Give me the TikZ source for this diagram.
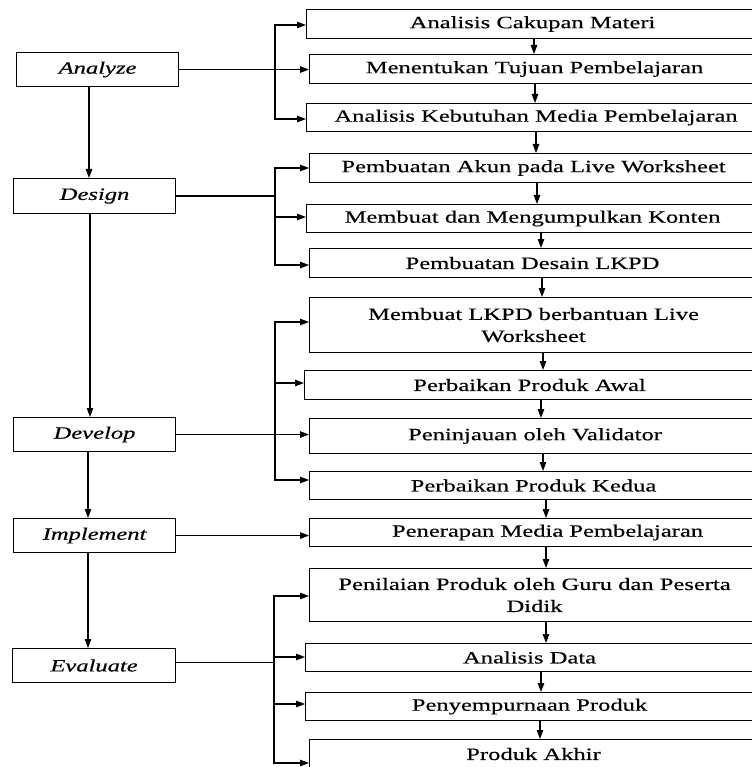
\documentclass[tikz,border=0pt]{standalone}
\usepackage{fontspec}
\usetikzlibrary{arrows.meta}
\newfontfamily\diafont[FakeStretch=1.42,FakeBold=0.4]{Liberation Serif}
\begin{document}
\begin{tikzpicture}[x=1pt,y=-1pt,
  box/.style={draw=black,line width=1.1pt,rectangle,inner sep=0pt,anchor=north west,align=center,
    font=\diafont\fontsize{17.3}{22}\selectfont},
  lbox/.style={box,font=\diafont\itshape\fontsize{17.3}{22}\selectfont},
  tip/.style={-{Triangle[length=9pt,width=6.5pt]}},
  arr/.style={tip,line width=1.1pt},
  arrb/.style={{Triangle[length=9pt,width=6.5pt]}-{Triangle[length=9pt,width=6.5pt]},line width=1.1pt},
  ln/.style={line width=1.1pt}]
\useasboundingbox (0,0) rectangle (751,767);
% left column
\node[lbox,minimum width=162pt,minimum height=34pt] (an) at (16,52) {Analyze};
\node[lbox,minimum width=162pt,minimum height=35pt] (ds) at (13,178) {Design};
\node[lbox,minimum width=162pt,minimum height=34pt] (dv) at (13,417) {Develop};
\node[lbox,minimum width=162pt,minimum height=34pt] (im) at (13,518) {Implement};
\node[lbox,minimum width=163pt,minimum height=34pt] (ev) at (12,648) {Evaluate};
% right column
\node[box,minimum width=452pt,minimum height=29pt] (m1) at (306,9) {Analisis Cakupan Materi};
\node[box,minimum width=450pt,minimum height=29pt] (m2) at (309,54) {Menentukan Tujuan Pembelajaran};
\node[box,minimum width=459pt,minimum height=28pt] (m3) at (306,103) {Analisis Kebutuhan Media Pembelajaran};
\node[box,minimum width=448pt,minimum height=29pt] (m4) at (309,153) {Pembuatan Akun pada Live Worksheet};
\node[box,minimum width=452pt,minimum height=28pt] (m5) at (306,204) {Membuat dan Mengumpulkan Konten};
\node[box,minimum width=446pt,minimum height=29pt] (m6) at (309,248) {Pembuatan Desain LKPD};
\node[box,minimum width=448pt,minimum height=55pt] (m7) at (309,297) {Membuat LKPD berbantuan Live\\Worksheet};
\node[box,minimum width=450pt,minimum height=29pt] (m8) at (304,370) {Perbaikan Produk Awal};
\node[box,minimum width=451pt,minimum height=35pt] (m9) at (309,418) {Peninjauan oleh Validator};
\node[box,minimum width=448pt,minimum height=28pt] (m10) at (309,471) {Perbaikan Produk Kedua};
\node[box,minimum width=476pt,minimum height=28pt] (m11) at (309,518) {Penerapan Media Pembelajaran};
\node[box,minimum width=450pt,minimum height=53pt] (m12) at (309,568) {Penilaian Produk oleh Guru dan Peserta\\Didik};
\node[box,minimum width=448pt,minimum height=28pt] (m13) at (305,643) {Analisis Data};
\node[box,minimum width=448pt,minimum height=28pt] (m14) at (305,692) {Penyempurnaan Produk};
\node[box,minimum width=448pt,minimum height=29pt] (m15) at (309,739) {Produk Akhir};
% left vertical arrows
\coordinate (c1) at (89,0);
\coordinate (c2) at (90,0);
\coordinate (c3) at (88,0);
\draw[arr] (an.south -| c1) -- (ds.north -| c1);
\draw[arr] (ds.south -| c2) -- (dv.north -| c2);
\draw[arr] (dv.south -| c3) -- (im.north -| c3);
\draw[arr] (im.south -| c3) -- (ev.north -| c3);
% right vertical arrows
\newcommand\vdown[3]{\coordinate (t#1) at (#3,0); \draw[arr] (#1.south -| t#1) -- (#2.north -| t#1);}
\vdown{m1}{m2}{534}
\vdown{m2}{m3}{535}
\vdown{m3}{m4}{536}
\vdown{m4}{m5}{537}
\vdown{m5}{m6}{541}
\vdown{m6}{m7}{542}
\vdown{m7}{m8}{543}
\vdown{m8}{m9}{541}
\vdown{m9}{m10}{543}
\vdown{m10}{m11}{546}
\vdown{m11}{m12}{546}
\vdown{m12}{m13}{546}
\vdown{m13}{m14}{541}
\vdown{m14}{m15}{540}
% Analyze branch
\coordinate (a1) at (275,25);
\coordinate (a3) at (275,119);
\draw[arrb] (a1 -| m1.west) -- (a1) -- (a3) -- (a3 -| m3.west);
\draw[arr] (an.east) -- (an.east -| m2.west);
% Design branch
\coordinate (d1) at (275,168);
\coordinate (d2) at (275,217);
\coordinate (d3) at (275,265);
\draw[arrb] (d1 -| m4.west) -- (d1) -- (d3) -- (d3 -| m6.west);
\draw[arr] (d2) -- (d2 -| m5.west);
\draw[ln] (ds.east) -- (ds.east -| d1);
% Develop branch
\coordinate (v1) at (275,322);
\coordinate (v2) at (275,383);
\coordinate (v3) at (275,480);
\draw[arrb] (v1 -| m7.west) -- (v1) -- (v3) -- (v3 -| m10.west);
\draw[arr] (v2) -- (v2 -| m8.west);
\draw[arr] (dv.east) -- (dv.east -| m9.west);
% Implement
\draw[arr] (im.east) -- (im.east -| m11.west);
% Evaluate branch
\coordinate (e1) at (274,596);
\coordinate (e2) at (274,657);
\coordinate (e3) at (274,704);
\coordinate (e4) at (274,763);
\draw[arrb] (e1 -| m12.west) -- (e1) -- (e4) -- (e4 -| m15.west);
\draw[arr] (e2) -- (e2 -| m13.west);
\draw[arr] (e3) -- (e3 -| m14.west);
\draw[ln] ([yshift=3pt]ev.east) -- ([yshift=3pt]ev.east -| e1);
\end{tikzpicture}
\end{document}
